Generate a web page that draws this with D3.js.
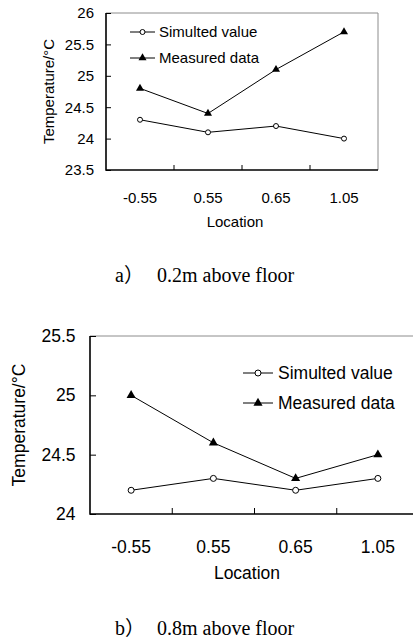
<!DOCTYPE html>
<html>
<head>
<meta charset="utf-8">
<script src="https://cdn.jsdelivr.net/npm/d3@7"></script>
<style>
  html, body { margin: 0; padding: 0; background: #fff; }
  svg { display: block; }
  .sans { font-family: "Liberation Sans", Arial, sans-serif; fill: #000; }
  .serif { font-family: "Liberation Serif", "Times New Roman", "Noto Sans CJK SC", serif; fill: #000; }
</style>
</head>
<body>
<svg id="chart" width="413" height="641"></svg>
<script>
"use strict";
// chart values
var locations = [ "-0.55", "0.55", "0.65", "1.05" ];
var seriesNames = [ "Simulted value", "Measured data" ];
var simA = [ 24.3, 24.1, 24.2, 24.0 ];
var measA = [ 24.8, 24.4, 25.1, 25.7 ];
var simB = [ 24.2, 24.3, 24.2, 24.3 ];
var measB = [ 25.0, 24.6, 24.3, 24.5 ];
var yTicksA = [ 23.5, 24, 24.5, 25, 25.5, 26 ];
var yTicksB = [ 24, 24.5, 25, 25.5 ];
var captionA = [ "a）", "0.2m above floor" ];
var captionB = [ "b）", "0.8m above floor" ];

var svg = d3.select( "#chart" );

drawPanel( {
  left: 106, right: 378, top: 13, bottom: 170,
  font: 15, tick: 5, yPad: 12, xPad: 22,
  yTitleX: 54, xTitleX: 235, xTitleY: 227,
  legX: 130, legLen: 25, legY: 32, legGap: 26, legTextDx: 4,
  r: 2.5, tri: 28,
  capY: 282, capX: 115, capX2: 157, capFont: 20
}, simA, measA, yTicksA, captionA );

drawPanel( {
  left: 90, right: 419, top: 336, bottom: 514,
  font: 17.5, tick: 6, yPad: 14.5, xPad: 26.5,
  yTitleX: 24.5, xTitleX: 247, xTitleY: 579,
  legX: 243, legLen: 30, legY: 373, legGap: 30, legTextDx: 5,
  r: 3, tri: 36,
  capY: 635, capX: 115, capX2: 157, capFont: 20
}, simB, measB, yTicksB, captionB );

function drawPanel( c, sim, meas, yTicks, caption ) {
  var x = d3.scaleBand().domain( locations ).range( [ c.left, c.right ] );
  var y = d3.scaleLinear().domain( d3.extent( yTicks ) ).range( [ c.bottom, c.top ] );
  var cx = function( d ) { return x( d ) + x.bandwidth() / 2; };
  var g = svg.append( "g" );

  // frame: grey top/right, black left/bottom
  g.append( "path" )
   .attr( "d", "M" + c.left + "," + c.top + "H" + c.right + "V" + c.bottom )
   .attr( "fill", "none" ).attr( "stroke", "#8c8c8c" ).attr( "stroke-width", 1 );

  // y axis
  var yAxis = g.append( "g" )
    .attr( "transform", "translate(" + c.left + ",0)" )
    .call( d3.axisLeft( y ).tickValues( yTicks ).tickFormat( d3.format( "" ) )
             .tickSizeInner( -c.tick ).tickSizeOuter( 0 ).tickPadding( c.yPad ) );
  yAxis.select( ".domain" ).remove();
  yAxis.selectAll( "line" ).attr( "stroke", "#000" );
  yAxis.selectAll( "text" ).attr( "class", "sans" ).attr( "font-size", c.font );
  yAxis.attr( "font-family", null ).attr( "font-size", null );

  // x axis labels at band centres
  var xAxis = g.append( "g" )
    .attr( "transform", "translate(0," + c.bottom + ")" )
    .call( d3.axisBottom( x ).tickSize( 0 ).tickPadding( c.xPad ) );
  xAxis.select( ".domain" ).remove();
  xAxis.selectAll( "text" ).attr( "class", "sans" ).attr( "font-size", c.font );
  xAxis.attr( "font-family", null ).attr( "font-size", null );

  // x ticks on band boundaries, pointing inward
  g.selectAll( "line.xt" )
   .data( locations.slice( 1 ) )
   .enter().append( "line" )
   .attr( "x1", function( d ) { return x( d ); } )
   .attr( "x2", function( d ) { return x( d ); } )
   .attr( "y1", c.bottom ).attr( "y2", c.bottom - c.tick )
   .attr( "stroke", "#000" );

  g.append( "path" )
   .attr( "d", "M" + c.left + "," + c.top + "V" + c.bottom + "H" + c.right )
   .attr( "fill", "none" ).attr( "stroke", "#000" ).attr( "stroke-width", 1.6 );

  // titles
  g.append( "text" ).attr( "class", "sans" ).attr( "font-size", c.font )
   .attr( "text-anchor", "middle" )
   .attr( "transform", "translate(" + c.yTitleX + "," + ( c.top + c.bottom ) / 2 + ") rotate(-90)" )
   .text( "Temperature/°C" );
  g.append( "text" ).attr( "class", "sans" ).attr( "font-size", c.font )
   .attr( "text-anchor", "middle" )
   .attr( "x", c.xTitleX ).attr( "y", c.xTitleY )
   .text( "Location" );

  // series lines
  var line = d3.line()
    .x( function( d, i ) { return cx( locations[i] ); } )
    .y( function( d ) { return y( d ); } );
  [ sim, meas ].forEach( function( s ) {
    g.append( "path" ).attr( "d", line( s ) )
     .attr( "fill", "none" ).attr( "stroke", "#000" ).attr( "stroke-width", 1 );
  } );

  var tri = d3.symbol().type( d3.symbolTriangle ).size( c.tri );
  g.selectAll( "circle.sim" ).data( sim ).enter().append( "circle" )
   .attr( "cx", function( d, i ) { return cx( locations[i] ); } )
   .attr( "cy", function( d ) { return y( d ); } )
   .attr( "r", c.r ).attr( "fill", "#fff" ).attr( "stroke", "#000" );
  g.selectAll( "path.meas" ).data( meas ).enter().append( "path" )
   .attr( "d", tri )
   .attr( "transform", function( d, i ) {
      return "translate(" + cx( locations[i] ) + "," + y( d ) + ")";
    } )
   .attr( "fill", "#000" );

  // legend
  seriesNames.forEach( function( name, i ) {
    var ly = c.legY + i * c.legGap;
    var mx = c.legX + c.legLen / 2;
    g.append( "line" ).attr( "x1", c.legX ).attr( "x2", c.legX + c.legLen )
     .attr( "y1", ly ).attr( "y2", ly ).attr( "stroke", "#000" );
    if ( i === 0 ) {
      g.append( "circle" ).attr( "cx", mx ).attr( "cy", ly ).attr( "r", c.r )
       .attr( "fill", "#fff" ).attr( "stroke", "#000" );
    } else {
      g.append( "path" ).attr( "d", tri )
       .attr( "transform", "translate(" + mx + "," + ly + ")" ).attr( "fill", "#000" );
    }
    g.append( "text" ).attr( "class", "sans" ).attr( "font-size", c.font )
     .attr( "x", c.legX + c.legLen + c.legTextDx ).attr( "y", ly + c.font * 0.36 )
     .text( name );
  } );

  // caption
  g.append( "text" ).attr( "class", "serif" ).attr( "font-size", c.capFont )
   .attr( "x", c.capX ).attr( "y", c.capY ).text( caption[0] );
  g.append( "text" ).attr( "class", "serif" ).attr( "font-size", c.capFont )
   .attr( "x", c.capX2 ).attr( "y", c.capY ).text( caption[1] );
}
</script>
</body>
</html>
